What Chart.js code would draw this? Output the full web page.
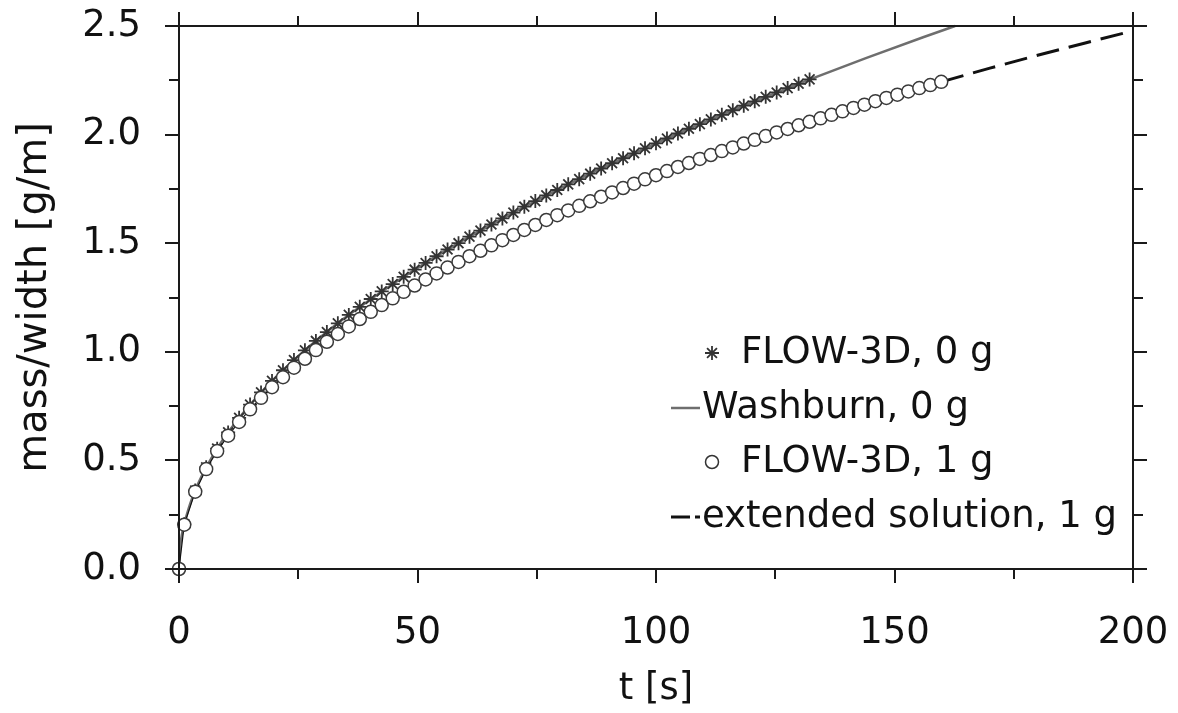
<!DOCTYPE html>
<html><head><meta charset="utf-8">
<script src="https://cdn.jsdelivr.net/npm/chart.js@4.4.1/dist/chart.umd.min.js"></script>
<style>html,body{margin:0;padding:0;background:#fff;overflow:hidden}canvas{display:block}</style>
</head><body>
<canvas id="c" width="1178" height="713"></canvas>
<script>
// FLOW-3D, 0 g (asterisks)
const tFlow0 = [0,1.1,3.4,5.7,8.0,10.3,12.6,14.9,17.2,19.5,21.8,24.1,26.4,28.7,31.0,33.3,35.6,37.9,40.2,42.5,44.8,47.1,49.4,51.7,54.0,56.3,58.6,60.9,63.2,65.5,67.8,70.1,72.4,74.7,77.0,79.3,81.6,83.9,86.2,88.5,90.8,93.1,95.4,97.7,100.0,102.3,104.6,106.9,109.2,111.5,113.8,116.1,118.4,120.7,123.0,125.3,127.6,129.9,132.2];
const mFlow0 = [0,0.206,0.361,0.468,0.554,0.629,0.696,0.757,0.813,0.866,0.915,0.962,1.007,1.050,1.091,1.131,1.170,1.207,1.243,1.278,1.312,1.345,1.378,1.409,1.440,1.471,1.500,1.530,1.558,1.586,1.614,1.641,1.668,1.694,1.720,1.745,1.771,1.795,1.820,1.844,1.868,1.891,1.914,1.937,1.960,1.982,2.005,2.027,2.048,2.070,2.091,2.112,2.133,2.153,2.174,2.194,2.214,2.234,2.254];
// Washburn, 0 g (solid grey line)
const tWash = [0,0.25,1,2,4,6,9,12,16,20,25,30,36,42,49,56,64,72,81,90,100,110,121,132,144,156,162.7];
const mWash = [0,0.098,0.196,0.277,0.392,0.480,0.588,0.679,0.784,0.877,0.980,1.074,1.176,1.270,1.372,1.467,1.568,1.663,1.764,1.859,1.960,2.056,2.156,2.252,2.352,2.448,2.500];
// FLOW-3D, 1 g (open circles)
const tFlow1 = [0,1.1,3.4,5.7,8.0,10.3,12.6,14.9,17.2,19.5,21.8,24.1,26.4,28.7,31.0,33.3,35.6,37.9,40.2,42.5,44.8,47.1,49.4,51.7,54.0,56.3,58.6,60.9,63.2,65.5,67.8,70.1,72.4,74.7,77.0,79.3,81.6,83.9,86.2,88.5,90.8,93.1,95.4,97.7,100.0,102.3,104.6,106.9,109.2,111.5,113.8,116.1,118.4,120.7,123.0,125.3,127.6,129.9,132.2,134.5,136.8,139.1,141.4,143.7,146.0,148.3,150.6,152.9,155.2,157.5,159.8];
const mFlow1 = [0,0.204,0.356,0.460,0.543,0.614,0.677,0.735,0.788,0.837,0.883,0.927,0.968,1.008,1.046,1.082,1.117,1.151,1.184,1.215,1.246,1.276,1.305,1.333,1.361,1.388,1.414,1.440,1.465,1.490,1.514,1.538,1.561,1.584,1.607,1.629,1.651,1.672,1.693,1.714,1.734,1.754,1.774,1.794,1.813,1.832,1.851,1.869,1.888,1.906,1.924,1.941,1.959,1.976,1.993,2.010,2.026,2.043,2.059,2.075,2.091,2.107,2.123,2.138,2.154,2.169,2.184,2.199,2.214,2.228,2.243];
// extended solution, 1 g (dashed)
const tExt = [159.8,170,180,190,200];
const mExt = [2.243,2.306,2.365,2.422,2.478];

const xMajor = [0,50,100,150,200];
const xMinor = [25,75,125,175];
const yMajor = [0,0.5,1.0,1.5,2.0,2.5];
const yMinor = [0.25,0.75,1.25,1.75,2.25];
const legendLabels = ['FLOW-3D, 0 g','Washburn, 0 g','FLOW-3D, 1 g','extended solution, 1 g'];
const xTitle = 't [s]';
const yTitle = 'mass/width [g/m]';

const FONT = "'DejaVu Sans', 'Liberation Sans', Arial, sans-serif";
const pts = (xs, ys) => xs.map((x, i) => ({x, y: ys[i]}));

function drawMarker(ctx, style, x, y, r, stroke, fill, lw) {
  ctx.save();
  ctx.lineWidth = lw; ctx.strokeStyle = stroke; ctx.fillStyle = fill;
  ctx.beginPath();
  if (style === 'circle') {
    ctx.arc(x, y, r, 0, Math.PI * 2); ctx.fill(); ctx.stroke();
  } else {
    for (let i = 0; i < 4; i++) {
      const a = i * Math.PI / 4;
      ctx.moveTo(x + Math.cos(a) * r, y + Math.sin(a) * r);
      ctx.lineTo(x - Math.cos(a) * r, y - Math.sin(a) * r);
    }
    ctx.stroke();
  }
  ctx.restore();
}

const zeroPad = s => { s.paddingTop = 0; s.paddingBottom = 0; s.paddingLeft = 0; s.paddingRight = 0; };

const framePlugin = {
  id: 'frame',
  afterDraw(chart) {
    const ctx = chart.ctx, a = chart.chartArea;
    const xs = chart.scales.x, ys = chart.scales.y;
    ctx.save();
    ctx.strokeStyle = '#1a1a1a';
    ctx.lineWidth = 2;
    ctx.lineCap = 'butt';
    ctx.strokeRect(a.left, a.top, a.right - a.left, a.bottom - a.top);
    const MAJ = 14, MIN = 10;
    ctx.beginPath();
    const xt = (v, len) => {
      const p = Math.round(xs.getPixelForValue(v));
      ctx.moveTo(p, a.bottom); ctx.lineTo(p, a.bottom + len);
      ctx.moveTo(p, a.top); ctx.lineTo(p, a.top - len);
    };
    const yt = (v, len) => {
      const p = Math.round(ys.getPixelForValue(v));
      ctx.moveTo(a.left, p); ctx.lineTo(a.left - len, p);
      ctx.moveTo(a.right, p); ctx.lineTo(a.right + len, p);
    };
    xMajor.forEach(v => xt(v, MAJ)); xMinor.forEach(v => xt(v, MIN));
    yMajor.forEach(v => yt(v, MAJ)); yMinor.forEach(v => yt(v, MIN));
    ctx.stroke();

    // legend
    const lx = 671, rows = [353, 408, 462, 517];
    ctx.font = '37px ' + FONT;
    ctx.fillStyle = '#111';
    ctx.textBaseline = 'middle';
    ctx.textAlign = 'left';
    drawMarker(ctx, 'star', 712, rows[0], 7, '#333', '#fff', 1.8);
    ctx.fillText(legendLabels[0], 741, rows[0]);
    ctx.strokeStyle = '#6e6e6e'; ctx.lineWidth = 2.5;
    ctx.beginPath(); ctx.moveTo(lx, rows[1]); ctx.lineTo(lx + 29, rows[1]); ctx.stroke();
    ctx.fillText(legendLabels[1], 702, rows[1]);
    drawMarker(ctx, 'circle', 712, rows[2], 6.5, '#333', '#fff', 1.5);
    ctx.fillText(legendLabels[2], 741, rows[2]);
    ctx.strokeStyle = '#111'; ctx.lineWidth = 3;
    ctx.beginPath(); ctx.moveTo(lx, rows[3]); ctx.lineTo(lx + 19, rows[3]);
    ctx.moveTo(lx + 24, rows[3]); ctx.lineTo(lx + 29, rows[3]); ctx.stroke();
    ctx.fillText(legendLabels[3], 702, rows[3]);
    ctx.restore();
  }
};

new Chart(document.getElementById('c'), {
  type: 'scatter',
  data: {
    datasets: [
      { label: legendLabels[2], data: pts(tFlow1, mFlow1), order: 0, showLine: true,
        borderColor: '#111', borderWidth: 1.2, pointStyle: 'circle', pointRadius: 6.5,
        pointBackgroundColor: '#fff', pointBorderColor: '#3a3a3a', pointBorderWidth: 1.5, clip: false },
      { label: legendLabels[3], data: pts(tExt, mExt), order: 1, showLine: true,
        borderColor: '#111', borderWidth: 3, borderDash: [23, 10], pointRadius: 0, clip: false },
      { label: legendLabels[0], data: pts(tFlow0, mFlow0), order: 2, showLine: false,
        pointStyle: 'star', pointRadius: 7, pointBorderColor: '#333', pointBorderWidth: 1.8,
        pointBackgroundColor: '#333', clip: false },
      { label: legendLabels[1], data: pts(tWash, mWash), order: 3, showLine: true,
        borderColor: '#6e6e6e', borderWidth: 2.5, pointRadius: 0, cubicInterpolationMode: 'monotone', clip: 4 }
    ]
  },
  options: {
    responsive: false, animation: false, events: [],
    layout: { padding: { top: 26, right: 45, left: 0, bottom: 0 } },
    plugins: { legend: { display: false }, tooltip: { enabled: false } },
    scales: {
      x: {
        type: 'linear', min: 0, max: 200,
        afterFit: s => { s.height = 144; zeroPad(s); },
        grid: { display: false, drawTicks: false },
        border: { display: false },
        ticks: { stepSize: 50, padding: 42, color: '#111', font: { family: FONT, size: 37 }, maxRotation: 0 },
        title: { display: true, text: xTitle, color: '#111', font: { family: FONT, size: 37 }, padding: { top: 0, bottom: 1 } }
      },
      y: {
        type: 'linear', min: 0, max: 2.5,
        afterFit: s => { s.width = 179; zeroPad(s); },
        grid: { display: false, drawTicks: false },
        border: { display: false },
        ticks: { stepSize: 0.5, padding: 38, color: '#111', font: { family: FONT, size: 37 },
                 callback: v => Number(v).toFixed(1) },
        title: { display: true, text: yTitle, color: '#111', font: { family: FONT, size: 40 }, padding: { top: 12, bottom: 0 } }
      }
    }
  },
  plugins: [framePlugin]
});
</script>
</body></html>
